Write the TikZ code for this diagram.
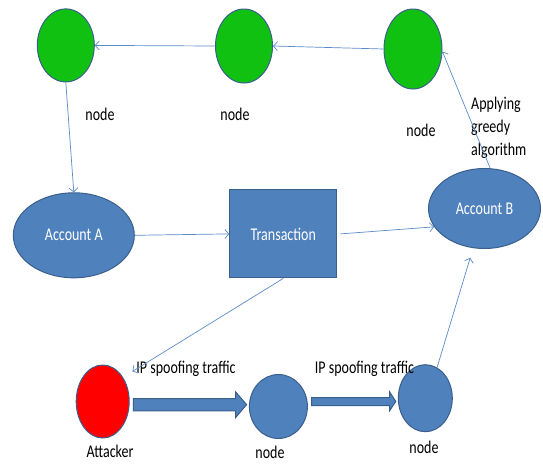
\documentclass[tikz,border=0pt]{standalone}
\usepackage{fontspec}
\setmainfont{Carlito}
\usetikzlibrary{shapes.geometric,arrows.meta}
\definecolor{obl}{HTML}{4F81BD}
\definecolor{obd}{HTML}{3A5F8C}
\definecolor{ogr}{HTML}{11C111}
\definecolor{ored}{HTML}{FF0000}
\definecolor{olin}{HTML}{5B8BC9}
\newcommand\vstr[1]{\scalebox{1}[1.28]{#1}}
\begin{document}
\begin{tikzpicture}[x=1pt,y=-1pt,
  oval/.style={ellipse,draw=obd,line width=1pt,inner sep=0pt},
  gnode/.style={oval,fill=ogr},
  bnode/.style={oval,fill=obl,text=white},
  rnode/.style={oval,fill=ored},
  lbl/.style={inner sep=0pt,text=black},
  conn/.style={olin,line width=0.7pt,-{Straight Barb[length=4pt,width=9pt]}},
  blockarr/.style={fill=obl,draw=obd,line width=1pt,line join=miter},
  font=\fontsize{14}{18}\selectfont]
\useasboundingbox (0,0) rectangle (543,464);
% top green nodes
\node[gnode,minimum width=57pt,minimum height=73pt] (g1) at (65.8,45.4) {};
\node[gnode,minimum width=57pt,minimum height=74pt] (g2) at (244,46) {};
\node[gnode,minimum width=58pt,minimum height=80pt] (g3) at (413,49) {};
\node[lbl] (lg1) at (100,114) {\vstr{node}};
\node[lbl] (lg2) at (235,114) {\vstr{node}};
\node[lbl] (lg3) at (421,130) {\vstr{node}};
\node[lbl,anchor=west] (greedy) at (471,128) {\vstr{\begin{tabular}{@{}l@{}}Applying\\greedy\\algorithm\end{tabular}}};
% middle row
\node[bnode,minimum width=121pt,minimum height=85pt] (accA) at (73.8,235.3) {\vstr{Account A}};
\node[rectangle,draw=obd,line width=1pt,fill=obl,text=white,minimum width=107pt,minimum height=88pt,inner sep=0pt] (trans) at (283.3,233.9) {\vstr{Transaction}};
\node[bnode,minimum width=112pt,minimum height=80pt] (accB) at (484.5,208.5) {\vstr{Account B}};
% bottom row
\node[rnode,minimum width=53pt,minimum height=73pt] (att) at (102.7,401.5) {};
\node[bnode,minimum width=58pt,minimum height=64pt] (b2) at (278.4,406.5) {};
\node[bnode,minimum width=54pt,minimum height=67pt] (b3) at (425.3,398.2) {};
\node[lbl] (latt) at (110,451) {\vstr{Attacker}};
\node[lbl] (lb2) at (270,452) {\vstr{node}};
\node[lbl] (lb3) at (424,447) {\vstr{node}};
% block arrows
\draw[blockarr] (133.3,398.7) -- (235.5,398.7) -- (235.5,391.8) -- (246.6,404.6) -- (235.5,417.7) -- (235.5,410.8) -- (133.3,410.8) -- cycle;
\draw[blockarr] (311.7,397.7) -- (389.6,397.7) -- (389.6,391.8) -- (395.8,401.5) -- (389.6,410.8) -- (389.6,405.6) -- (311.7,405.6) -- cycle;
\node[lbl] (ip1) at (186,369) {\vstr{IP spoofing traffic}};
\node[lbl] (ip2) at (364.5,369) {\vstr{IP spoofing traffic}};
% connectors
\draw[conn] (g3.west) -- (g2.east);
\draw[conn] (g2.west) -- (g1.east);
\draw[conn] (g1.south) -- (accA.north);
\draw[conn] (accA.east) -- (trans.west);
\draw[conn] ([xshift=3pt]trans.east) -- (accB.200);
\draw[conn,shorten >=11pt] (trans.south) -- (att.50);
\draw[conn,shorten >=10pt] (b3.69) -- (accB.254);
\draw[conn] (accB.82) -- (g3.-5);
\end{tikzpicture}
\end{document}
